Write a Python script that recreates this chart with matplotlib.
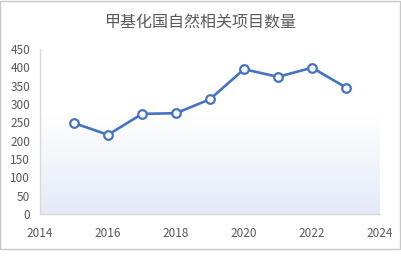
import numpy as np
import matplotlib
matplotlib.use("Agg")
import matplotlib.pyplot as plt
from matplotlib.colors import LinearSegmentedColormap
from matplotlib.patches import Rectangle

plt.rcParams['font.family'] = ['Noto Sans CJK SC', 'DejaVu Sans']

# data
title = "甲基化国自然相关项目数量"
years = [2015, 2016, 2017, 2018, 2019, 2020, 2021, 2022, 2023]
counts = [248, 216, 273, 275, 313, 395, 374, 399, 345]
xticks = [2014, 2016, 2018, 2020, 2022, 2024]
yticks = list(range(0, 451, 50))

line_color = "#4472C4"
text_color = "#595959"

fig = plt.figure(figsize=(4.01, 2.59), dpi=100)
ax = fig.add_axes([0.0998, 0.1737, 0.8478, 0.6371])

# soft blue gradient behind the lower part of the plot
cmap = LinearSegmentedColormap.from_list("bg", ["#E4EAF6", "#FFFFFF"])
grad = np.linspace(0, 1, 256).reshape(-1, 1)
ax.imshow(grad, cmap=cmap, aspect='auto', origin='lower',
          extent=[2014, 2024, 0, 270], zorder=0)

ax.plot(years, counts, color=line_color, lw=1.9, marker='o', ms=6.2,
        mfc='white', mec=line_color, mew=1.6, zorder=3)

ax.set_xlim(2014, 2024)
ax.set_ylim(0, 450)
ax.set_xticks(xticks)
ax.set_yticks(yticks)
ax.tick_params(length=0, labelsize=8.5, colors=text_color)
ax.tick_params(axis='y', pad=7)
ax.tick_params(axis='x', pad=9)

for s in ['top', 'right']:
    ax.spines[s].set_visible(False)
for s in ['left', 'bottom']:
    ax.spines[s].set_color("#D9D9D9")
    ax.spines[s].set_linewidth(1.0)

fig.text(0.5, 0.915, title, ha='center', va='center', fontsize=11.5, color=text_color)

# outer chart border
fig.patches.append(Rectangle((0.001, 0.0386), 0.996, 0.959, transform=fig.transFigure,
                             fill=False, edgecolor="#C8C8C8", lw=1.0))

fig.savefig("out.png", dpi=100)
